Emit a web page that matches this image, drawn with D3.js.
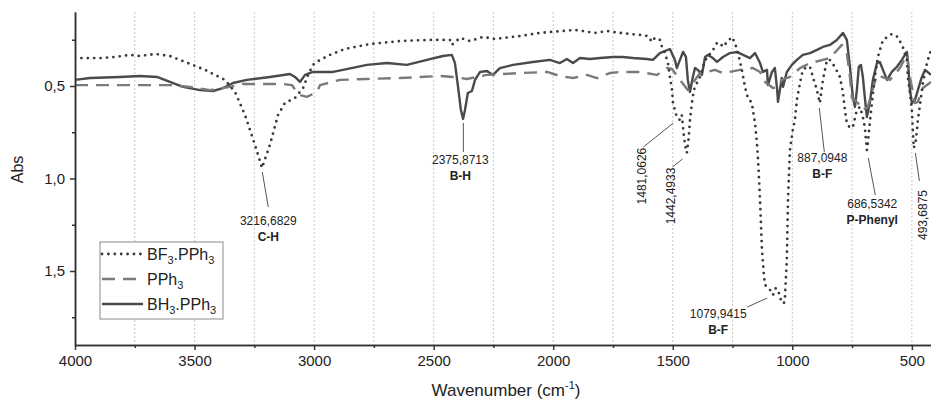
<!DOCTYPE html>
<html lang="en">
<head>
	<meta charset="UTF-8">
	<title>IR spectra</title>
	<script src="https://cdn.jsdelivr.net/npm/d3@7"></script>
	<style>
	body {
		margin: 0;
		background-color: #ffffff;
	}
	svg {
		display: block;
		font-family: 'Liberation Sans', Arial, sans-serif;
	}
	.axis path, .axis line {
		stroke: #333;
		stroke-width: 1.5px;
	}
	.axis text {
		font-size: 15px;
		fill: #222;
	}
	.grid line {
		stroke: #c8c8c8;
		stroke-width: 1px;
		stroke-dasharray: 2,2;
	}
	.peak {
		font-size: 12px;
		fill: #222;
	}
	.peak .sub {
		font-weight: bold;
	}
	.leader {
		stroke: #555;
		stroke-width: 1px;
	}
	</style>
</head>
<body>
<script>
	// wavenumber (cm-1), absorbance
	var bf3Data = [[4000,0.349],[3895,0.349],[3833,0.343],[3770,0.332],[3728,0.338],[3665,0.327],[3603,0.338],[3540,0.370],[3456,0.413],[3373,0.467],[3331,0.532],[3289,0.657],[3247,0.819],[3218,0.943],[3185,0.819],[3151,0.657],[3122,0.592],[3080,0.565],[3046,0.511],[3025,0.440],[3005,0.386],[2975,0.359],[2934,0.332],[2871,0.300],[2766,0.273],[2641,0.257],[2516,0.251],[2432,0.251],[2424,0.278],[2390,0.240],[2348,0.257],[2294,0.235],[2244,0.246],[2139,0.230],[2056,0.213],[1909,0.197],[1825,0.213],[1775,0.203],[1721,0.213],[1637,0.224],[1604,0.230],[1587,0.262],[1575,0.240],[1554,0.251],[1545,0.289],[1533,0.322],[1520,0.376],[1512,0.451],[1503,0.522],[1499,0.592],[1483,0.668],[1470,0.684],[1462,0.657],[1453,0.776],[1445,0.846],[1441,0.862],[1433,0.776],[1428,0.684],[1420,0.592],[1412,0.522],[1399,0.484],[1386,0.451],[1374,0.397],[1357,0.343],[1336,0.316],[1315,0.267],[1303,0.267],[1290,0.289],[1273,0.262],[1252,0.235],[1240,0.267],[1227,0.322],[1211,0.413],[1198,0.505],[1186,0.565],[1169,0.592],[1165,0.630],[1156,0.700],[1148,0.808],[1144,0.884],[1140,0.981],[1135,1.116],[1127,1.386],[1119,1.521],[1114,1.575],[1093,1.603],[1081,1.630],[1069,1.592],[1056,1.619],[1044,1.673],[1035,1.673],[1031,1.646],[1023,1.440],[1018,1.116],[1010,0.846],[998,0.738],[989,0.684],[981,0.576],[968,0.484],[956,0.413],[939,0.397],[926,0.397],[914,0.451],[897,0.522],[885,0.592],[872,0.467],[855,0.359],[843,0.359],[822,0.397],[801,0.451],[788,0.538],[780,0.630],[772,0.700],[759,0.727],[747,0.722],[730,0.630],[717,0.613],[705,0.668],[697,0.722],[688,0.846],[684,0.808],[676,0.700],[667,0.592],[655,0.451],[642,0.343],[621,0.251],[584,0.219],[559,0.235],[538,0.289],[521,0.359],[517,0.451],[508,0.538],[500,0.630],[496,0.738],[492,0.835],[483,0.792],[475,0.684],[466,0.603],[454,0.484],[437,0.376],[420,0.305]];

	var pph3Data = [[4000,0.495],[3603,0.495],[3519,0.505],[3435,0.522],[3352,0.505],[3297,0.489],[3130,0.489],[3093,0.495],[3072,0.532],[3059,0.549],[3030,0.559],[2988,0.532],[2975,0.495],[2892,0.467],[2779,0.462],[2641,0.457],[2474,0.446],[2419,0.451],[2361,0.462],[2277,0.440],[2139,0.430],[2026,0.424],[1972,0.446],[1917,0.457],[1859,0.440],[1817,0.457],[1763,0.430],[1721,0.424],[1637,0.424],[1566,0.440],[1524,0.403],[1503,0.408],[1470,0.467],[1437,0.522],[1416,0.484],[1386,0.430],[1357,0.424],[1324,0.413],[1290,0.430],[1261,0.424],[1219,0.413],[1165,0.403],[1135,0.424],[1114,0.478],[1081,0.511],[1060,0.505],[1044,0.467],[1010,0.451],[968,0.403],[926,0.376],[872,0.359],[843,0.349],[793,0.278],[772,0.322],[759,0.451],[751,0.565],[726,0.592],[705,0.630],[684,0.613],[667,0.532],[646,0.440],[625,0.451],[592,0.467],[550,0.403],[521,0.332],[508,0.451],[487,0.592],[475,0.586],[454,0.511],[420,0.478]];

	var bh3Data = [[4000,0.467],[3937,0.457],[3812,0.451],[3728,0.446],[3657,0.451],[3603,0.478],[3548,0.505],[3477,0.522],[3423,0.527],[3381,0.511],[3339,0.484],[3281,0.467],[3185,0.451],[3101,0.435],[3080,0.451],[3059,0.478],[3038,0.440],[3005,0.424],[2921,0.424],[2879,0.413],[2779,0.386],[2695,0.376],[2612,0.386],[2528,0.359],[2461,0.338],[2424,0.332],[2411,0.376],[2398,0.505],[2386,0.630],[2377,0.678],[2369,0.630],[2357,0.538],[2340,0.527],[2327,0.467],[2306,0.424],[2277,0.419],[2252,0.440],[2223,0.403],[2168,0.386],[2085,0.370],[2014,0.359],[1972,0.376],[1943,0.354],[1917,0.376],[1888,0.349],[1846,0.354],[1804,0.349],[1750,0.343],[1708,0.343],[1666,0.349],[1608,0.354],[1583,0.359],[1554,0.322],[1512,0.300],[1491,0.359],[1483,0.403],[1470,0.359],[1457,0.316],[1445,0.343],[1437,0.467],[1428,0.532],[1416,0.451],[1407,0.403],[1395,0.413],[1378,0.440],[1365,0.343],[1353,0.332],[1332,0.349],[1315,0.370],[1290,0.343],[1261,0.322],[1231,0.316],[1206,0.332],[1177,0.349],[1156,0.322],[1135,0.376],[1123,0.424],[1106,0.413],[1102,0.495],[1085,0.424],[1073,0.403],[1064,0.511],[1060,0.586],[1052,0.522],[1044,0.457],[1039,0.505],[1023,0.424],[1002,0.386],[981,0.359],[956,0.332],[926,0.322],[897,0.305],[872,0.289],[843,0.278],[814,0.251],[788,0.213],[772,0.251],[759,0.397],[747,0.559],[738,0.613],[730,0.522],[722,0.397],[713,0.386],[705,0.451],[697,0.559],[688,0.668],[676,0.592],[663,0.467],[646,0.376],[634,0.370],[621,0.413],[604,0.467],[584,0.424],[563,0.397],[542,0.359],[521,0.316],[517,0.359],[508,0.522],[500,0.592],[487,0.576],[475,0.522],[458,0.451],[445,0.413],[420,0.440]];

	var xMajorTicks = [4000, 3500, 3000, 2500, 2000, 1500, 1000, 500];
	var xMinorTicks = [3750, 3250, 2750, 2250, 1750, 1250, 750];
	var yMajorTicks = [0.5, 1.0, 1.5];
	var yMinorTicks = [0.25, 0.75, 1.25, 1.75];

	// peak annotations: position of the peak, value label, assignment, vertical text?
	var peaks = [
		{wn: 3216.68, abs: 0.943, label: '3216,6829', sub: 'C-H', rot: false},
		{wn: 2375.87, abs: 0.678, label: '2375,8713', sub: 'B-H', rot: false},
		{wn: 1481.06, abs: 0.668, label: '1481,0626', sub: '', rot: true},
		{wn: 1442.49, abs: 0.862, label: '1442,4933', sub: '', rot: true},
		{wn: 1079.94, abs: 1.630, label: '1079,9415', sub: 'B-F', rot: false},
		{wn: 887.09, abs: 0.592, label: '887,0948', sub: 'B-F', rot: false},
		{wn: 686.53, abs: 0.846, label: '686,5342', sub: 'P-Phenyl', rot: false},
		{wn: 493.69, abs: 0.835, label: '493,6875', sub: '', rot: true}
	];
	// pixel offsets from the peak: leader start, leader end, text
	var peakOffsets = [
		{l: [0, 4, 6, 39], t: [6, 57]},
		{l: [0, 4, 0, 33], t: [-3, 45]},
		{l: [-4, 6, -34, 30], t: [-35, 59]},
		{l: [-4, 6, -14, 14], t: [-16, 43]},
		{l: [-6, 3, -26, 12], t: [-55, 23]},
		{l: [0, 5, 5, 49], t: [3, 59]},
		{l: [1, 8, 8, 45], t: [5, 58]},
		{l: [2, 5, 6, 33], t: [9, 67]}
	];

	var series = [
		{name: 'BF', n1: '3', mid: '.PPh', n2: '3', data: bf3Data, color: '#3a3a3a', width: 2.8, dash: '0,6.4', cap: 'round'},
		{name: 'PPh', n1: '3', mid: '', n2: '', data: pph3Data, color: '#7a7a7a', width: 2.4, dash: '13,8', cap: 'butt'},
		{name: 'BH', n1: '3', mid: '.PPh', n2: '3', data: bh3Data, color: '#4a4a4a', width: 2.4, dash: null, cap: 'butt'}
	];

	var margin = {top: 12, right: 0, bottom: 57, left: 75};
	var width = 931 - margin.left - margin.right;
	var height = 402 - margin.top - margin.bottom;

	var svg = d3.select('body').append('svg')
		.attr('width', width + margin.left + margin.right)
		.attr('height', height + margin.top + margin.bottom)
		.append('g')
		.attr('transform', 'translate(' + margin.left + ',' + margin.top + ')');

	var x = d3.scaleLinear().domain([4000, 420]).range([0, width]);
	var y = d3.scaleLinear().domain([0.1, 1.9]).range([0, height]);

	svg.append('g')
		.attr('class', 'grid')
		.selectAll('line')
		.data(xMajorTicks.concat(xMinorTicks).filter(function (d) { return d !== 4000; }))
		.enter()
		.append('line')
		.attr('x1', function (d) { return x(d); })
		.attr('x2', function (d) { return x(d); })
		.attr('y1', 0)
		.attr('y2', height);

	svg.append('clipPath')
		.attr('id', 'plotclip')
		.append('rect')
		.attr('width', width)
		.attr('height', height);

	var line = d3.line()
		.x(function (d) { return x(d[0]); })
		.y(function (d) { return y(d[1]); });

	var plot = svg.append('g').attr('clip-path', 'url(#plotclip)');
	// draw solid first, dotted on top like the original
	[series[2], series[1], series[0]].forEach(function (s) {
		plot.append('path')
			.datum(s.data)
			.attr('d', line)
			.attr('fill', 'none')
			.attr('stroke', s.color)
			.attr('stroke-width', s.width)
			.attr('stroke-dasharray', s.dash)
			.attr('stroke-linecap', s.cap)
			.attr('stroke-linejoin', 'round');
	});

	// axes
	var commaFmt = function (d) { return d.toFixed(1).replace('.', ','); };

	svg.append('g')
		.attr('class', 'axis')
		.attr('transform', 'translate(0,' + height + ')')
		.call(d3.axisBottom(x).tickValues(xMajorTicks).tickFormat(d3.format('d')).tickSize(5).tickSizeOuter(0).tickPadding(5));
	svg.append('g')
		.attr('class', 'axis')
		.attr('transform', 'translate(0,' + height + ')')
		.call(d3.axisBottom(x).tickValues(xMinorTicks).tickFormat('').tickSize(3).tickSizeOuter(0));

	svg.append('g')
		.attr('class', 'axis')
		.call(d3.axisLeft(y).tickValues(yMajorTicks).tickFormat(commaFmt).tickSize(5).tickSizeOuter(0).tickPadding(5));
	svg.append('g')
		.attr('class', 'axis')
		.call(d3.axisLeft(y).tickValues(yMinorTicks).tickFormat('').tickSize(3).tickSizeOuter(0));

	svg.append('text')
		.attr('transform', 'translate(' + (-52) + ',' + (y(1.0) - 9) + ') rotate(-90)')
		.style('text-anchor', 'middle')
		.style('font-size', '16px')
		.style('fill', '#222')
		.text('Abs');

	var xt = svg.append('text')
		.attr('x', 431)
		.attr('y', height + 51)
		.style('text-anchor', 'middle')
		.style('font-size', '17px')
		.style('fill', '#222');
	xt.append('tspan').text('Wavenumber (cm');
	xt.append('tspan').attr('dy', -7).style('font-size', '11px').text('-1');
	xt.append('tspan').attr('dy', 7).text(')');

	// peak labels
	var ann = svg.append('g').attr('class', 'peak');
	peaks.forEach(function (p, i) {
		var o = peakOffsets[i];
		var px = x(p.wn), py = y(p.abs);
		ann.append('line')
			.attr('class', 'leader')
			.attr('x1', px + o.l[0]).attr('y1', py + o.l[1])
			.attr('x2', px + o.l[2]).attr('y2', py + o.l[3]);
		if (p.rot) {
			ann.append('text')
				.attr('transform', 'translate(' + (px + o.t[0]) + ',' + (py + o.t[1]) + ') rotate(-90)')
				.attr('dy', '0.35em')
				.style('text-anchor', 'middle')
				.text(p.label);
		} else {
			ann.append('text')
				.attr('x', px + o.t[0])
				.attr('y', py + o.t[1])
				.style('text-anchor', 'middle')
				.text(p.label);
			ann.append('text')
				.attr('class', 'sub')
				.attr('x', px + o.t[0])
				.attr('y', py + o.t[1] + 16)
				.style('text-anchor', 'middle')
				.text(p.sub);
		}
	});

	// legend
	var legend = svg.append('g')
		.attr('transform', 'translate(25,230)');
	legend.append('rect')
		.attr('width', 123)
		.attr('height', 77)
		.attr('fill', '#fff')
		.attr('stroke', '#8a8a8a')
		.attr('stroke-width', 1);

	var rows = legend.selectAll('.lrow')
		.data(series)
		.enter()
		.append('g')
		.attr('class', 'lrow')
		.attr('transform', function (d, i) { return 'translate(0,' + (18 + i * 25) + ')'; });

	rows.append('line')
		.attr('x1', 2).attr('x2', 43)
		.attr('y1', -6).attr('y2', -6)
		.attr('stroke', function (d) { return d.color; })
		.attr('stroke-width', function (d) { return d.width; })
		.attr('stroke-dasharray', function (d) { return d.dash; })
		.attr('stroke-linecap', function (d) { return d.cap; });

	var lt = rows.append('text')
		.attr('x', 47)
		.style('font-size', '16px')
		.style('fill', '#222');
	lt.append('tspan').text(function (d) { return d.name; });
	lt.append('tspan').attr('dy', 4).style('font-size', '11px').text(function (d) { return d.n1; });
	lt.append('tspan').attr('dy', -4).text(function (d) { return d.mid; });
	lt.append('tspan').attr('dy', 4).style('font-size', '11px').text(function (d) { return d.n2; });
</script>
</body>
</html>
